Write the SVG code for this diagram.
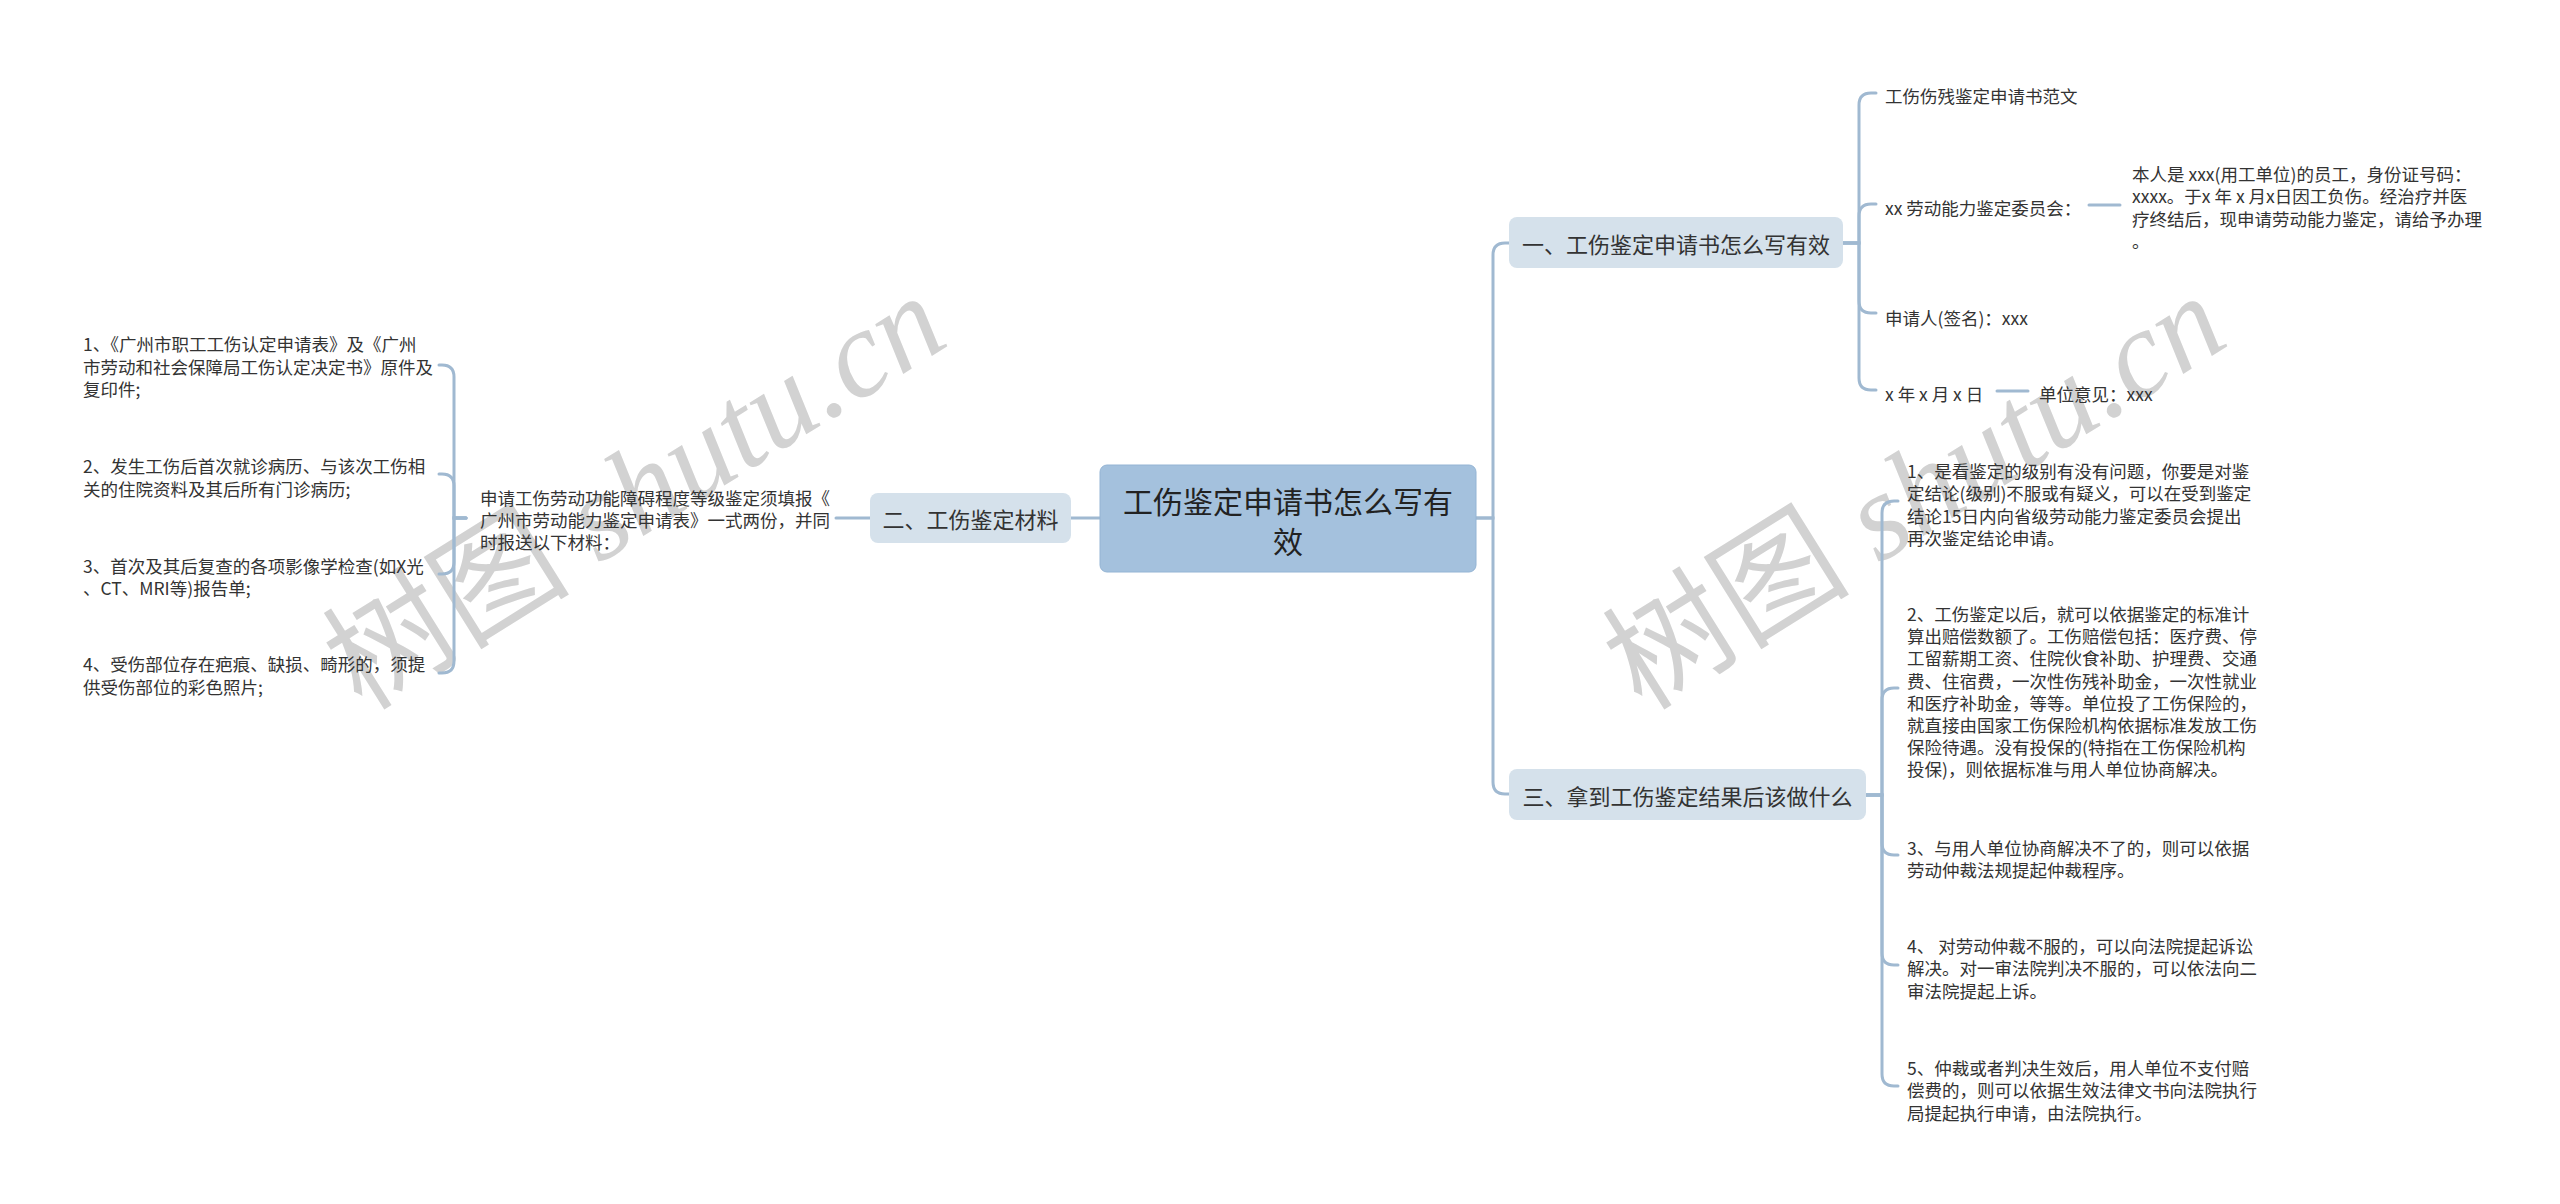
<svg xmlns="http://www.w3.org/2000/svg" width="2560" height="1204" viewBox="0 0 2560 1204">
<style>
text{font-family:"Noto Sans CJK SC","Liberation Sans",sans-serif;fill:#333;dominant-baseline:central}
.s{font-size:17.5px}
.m{font-size:22px;text-anchor:middle}
.c{font-size:30px;text-anchor:middle;fill:#222}
.lv1{fill:#d5e1eb}
.wm{font-family:"Liberation Serif","Noto Sans CJK SC",serif;font-size:124px;fill:#d2d2d2;dominant-baseline:alphabetic}
.wm tspan.i{font-style:italic}
#connectors path{fill:none;stroke:#a0b9d1;stroke-width:3;stroke-linecap:round}
</style>
<rect width="2560" height="1204" fill="#fff"/>
<g id="watermarks">
<text class="wm" transform="translate(362 712) rotate(-32)">树图 <tspan class="i">shutu.cn</tspan></text>
<text class="wm" transform="translate(1642 712) rotate(-32)">树图 <tspan class="i">shutu.cn</tspan></text>
</g>
<g id="connectors">
<path d="M1476 518H1493V255Q1493 243 1505 243H1510"/>
<path d="M1476 518H1493V782Q1493 794 1505 794H1510"/>
<path d="M1100 518H1071"/>
<path d="M870 518H836"/>
<path d="M466 518H454V377Q454 365 442 365H439"/>
<path d="M466 518H454V486Q454 474 442 474H439"/>
<path d="M466 518H454V562Q454 574 442 574H439"/>
<path d="M466 518H454V661Q454 673 442 673H439"/>
<path d="M1843 243H1859V105Q1859 93 1871 93H1876"/>
<path d="M1843 243H1859V216Q1859 204 1871 204H1876"/>
<path d="M1843 243H1859V301Q1859 313 1871 313H1876"/>
<path d="M1843 243H1859V378Q1859 390 1871 390H1876"/>
<path d="M2089 205H2120"/>
<path d="M1997 391H2028"/>
<path d="M1866 795H1882V513Q1882 501 1894 501H1898"/>
<path d="M1866 795H1882V700Q1882 688 1894 688H1898"/>
<path d="M1866 795H1882V843Q1882 855 1894 855H1898"/>
<path d="M1866 795H1882V953Q1882 965 1894 965H1898"/>
<path d="M1866 795H1882V1074Q1882 1086 1894 1086H1898"/>
</g>
<g id="root">
<rect x="1100" y="465" width="376" height="107" rx="7" fill="#a4c1dd" stroke="#94b4d4" stroke-width="1"/>
<text class="c"><tspan x="1288" y="500">工伤鉴定申请书怎么写有</tspan><tspan x="1288" y="540">效</tspan></text>
</g>
<g id="n2">
<rect class="lv1" x="870" y="493" width="201" height="50" rx="8"/>
<text class="m" x="970.5" y="518">二、工伤鉴定材料</text>
</g>
<g id="n2-1">
<text class="s"><tspan x="480" y="497">申请工伤劳动功能障碍程度等级鉴定须填报《</tspan><tspan x="480" y="519">广州市劳动能力鉴定申请表》一式两份，并同</tspan><tspan x="480" y="541">时报送以下材料：</tspan></text>
</g>
<g id="n2-1-1">
<text class="s"><tspan x="83" y="343">1、《广州市职工工伤认定申请表》及《广州</tspan><tspan x="83" y="365.5">市劳动和社会保障局工伤认定决定书》原件及</tspan><tspan x="83" y="388">复印件;</tspan></text>
</g>
<g id="n2-1-2">
<text class="s"><tspan x="83" y="465">2、发生工伤后首次就诊病历、与该次工伤相</tspan><tspan x="83" y="487.5">关的住院资料及其后所有门诊病历;</tspan></text>
</g>
<g id="n2-1-3">
<text class="s"><tspan x="83" y="564.5">3、首次及其后复查的各项影像学检查(如X光</tspan><tspan x="83" y="587">、CT、MRI等)报告单;</tspan></text>
</g>
<g id="n2-1-4">
<text class="s"><tspan x="83" y="663">4、受伤部位存在疤痕、缺损、畸形的，须提</tspan><tspan x="83" y="685.5">供受伤部位的彩色照片;</tspan></text>
</g>
<g id="n1">
<rect class="lv1" x="1509" y="217" width="334" height="51" rx="8"/>
<text class="m" x="1676" y="243">一、工伤鉴定申请书怎么写有效</text>
</g>
<g id="n1-1"><text class="s" x="1885" y="95">工伤伤残鉴定申请书范文</text></g>
<g id="n1-2"><text class="s" x="1885" y="207">xx 劳动能力鉴定委员会：</text></g>
<g id="n1-2-1">
<text class="s"><tspan x="2132" y="173">本人是 xxx(用工单位)的员工，身份证号码：</tspan><tspan x="2132" y="195.3">xxxx。于x 年 x 月x日因工负伤。经治疗并医</tspan><tspan x="2132" y="217.6">疗终结后，现申请劳动能力鉴定，请给予办理</tspan><tspan x="2132" y="240">。</tspan></text>
</g>
<g id="n1-3"><text class="s" x="1885" y="317">申请人(签名)：xxx</text></g>
<g id="n1-4"><text class="s" x="1885" y="393">x 年 x 月 x 日</text></g>
<g id="n1-4-1"><text class="s" x="2039" y="393">单位意见：xxx</text></g>
<g id="n3">
<rect class="lv1" x="1509" y="769" width="357" height="51" rx="8"/>
<text class="m" x="1687.5" y="795">三、拿到工伤鉴定结果后该做什么</text>
</g>
<g id="n3-1">
<text class="s"><tspan x="1907" y="470">1、是看鉴定的级别有没有问题，你要是对鉴</tspan><tspan x="1907" y="492.3">定结论(级别)不服或有疑义，可以在受到鉴定</tspan><tspan x="1907" y="514.6">结论15日内向省级劳动能力鉴定委员会提出</tspan><tspan x="1907" y="537">再次鉴定结论申请。</tspan></text>
</g>
<g id="n3-2">
<text class="s"><tspan x="1907" y="613">2、工伤鉴定以后，就可以依据鉴定的标准计</tspan><tspan x="1907" y="635.2">算出赔偿数额了。工伤赔偿包括：医疗费、停</tspan><tspan x="1907" y="657.4">工留薪期工资、住院伙食补助、护理费、交通</tspan><tspan x="1907" y="679.6">费、住宿费，一次性伤残补助金，一次性就业</tspan><tspan x="1907" y="701.8">和医疗补助金，等等。单位投了工伤保险的，</tspan><tspan x="1907" y="724">就直接由国家工伤保险机构依据标准发放工伤</tspan><tspan x="1907" y="746.2">保险待遇。没有投保的(特指在工伤保险机构</tspan><tspan x="1907" y="768.4">投保)，则依据标准与用人单位协商解决。</tspan></text>
</g>
<g id="n3-3">
<text class="s"><tspan x="1907" y="847">3、与用人单位协商解决不了的，则可以依据</tspan><tspan x="1907" y="869">劳动仲裁法规提起仲裁程序。</tspan></text>
</g>
<g id="n3-4">
<text class="s"><tspan x="1907" y="945">4、 对劳动仲裁不服的，可以向法院提起诉讼</tspan><tspan x="1907" y="967.3">解决。对一审法院判决不服的，可以依法向二</tspan><tspan x="1907" y="989.6">审法院提起上诉。</tspan></text>
</g>
<g id="n3-5">
<text class="s"><tspan x="1907" y="1067">5、仲裁或者判决生效后，用人单位不支付赔</tspan><tspan x="1907" y="1089.3">偿费的，则可以依据生效法律文书向法院执行</tspan><tspan x="1907" y="1111.6">局提起执行申请，由法院执行。</tspan></text>
</g>
</svg>
